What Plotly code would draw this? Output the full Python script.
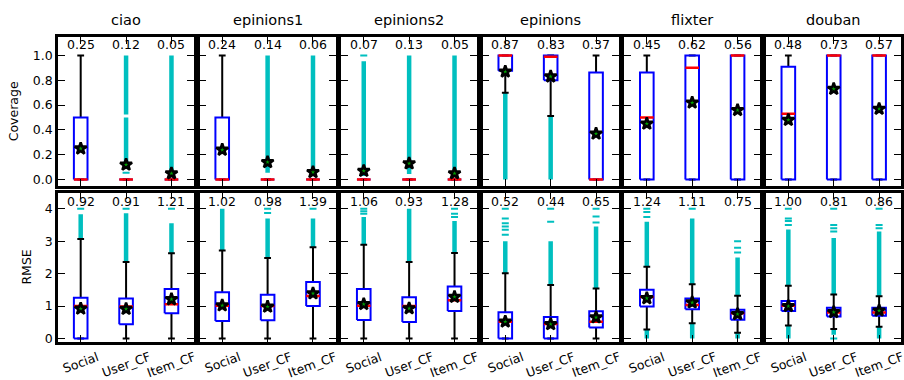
import plotly.graph_objects as go

datasets = ["ciao", "epinions1", "epinions2", "epinions", "flixter", "douban"]
methods = ["Social", "User_CF", "Item_CF"]
positions = [1, 2, 3]
metrics = ["Coverage", "RMSE"]

# ---------- Coverage (top row) ----------
cov_q1 = [[0, 0, 0], [0, 0, 0], [0, 0, 0], [0.877, 0.80, 0], [0, 0, 0], [0, 0, 0]]
cov_med = [[0, 0, 0], [0, 0, 0], [0, 0, 0], [1.0, 0.99, 0], [0.5, 0.9, 1.0], [0.53, 1.0, 1.0]]
cov_q3 = [[0.5, 0, 0], [0.5, 0, 0], [0, 0, 0], [1.0, 1.0, 0.862], [0.862, 1.0, 1.0], [0.909, 1.0, 1.0]]
cov_wlo = [[0, 0, 0], [0, 0, 0], [0, 0, 0], [0.70, 0.512, 0], [0, 0, 0], [0, 0, 0]]
cov_whi = [[1.0, 0, 0], [1.0, 0, 0], [0, 0, 0], [1.0, 1.0, 1.0], [1.0, 1.0, 1.0], [1.0, 1.0, 1.0]]
cov_mean = [[0.25, 0.12, 0.05], [0.24, 0.14, 0.06], [0.07, 0.13, 0.05],
            [0.87, 0.83, 0.37], [0.45, 0.62, 0.56], [0.48, 0.73, 0.57]]
cov_out_ranges = [
    [[], [[0.085, 0.50], [0.525, 1.0]], [[0.07, 1.0]]],
    [[], [[0.055, 1.0]], [[0.08, 1.0]]],
    [[[0.03, 0.953]], [[0.045, 1.0]], [[0.03, 1.0]]],
    [[[0.0, 0.70]], [[0.0, 0.512]], []],
    [[], [], []],
    [[], [], []],
]
cov_out_pts = [
    [[], [0.055], []],
    [[], [], []],
    [[1.0], [], []],
    [[], [], []],
    [[], [], []],
    [[], [], []],
]

# ---------- RMSE (bottom row) ----------
rmse_q1 = [[0, 0.44, 0.78], [0.54, 0.56, 1.0], [0.57, 0.51, 0.85],
           [0, 0, 0.34], [0.99, 0.90, 0.58], [0.85, 0.68, 0.70]]
rmse_med = [[1.0, 0.99, 1.06], [1.01, 1.0, 1.31], [1.01, 1.0, 1.18],
            [0.52, 0.45, 0.52], [1.28, 1.03, 0.78], [1.01, 0.80, 0.80]]
rmse_q3 = [[1.26, 1.23, 1.53], [1.43, 1.35, 1.74], [1.53, 1.27, 1.60],
           [0.81, 0.66, 0.84], [1.50, 1.23, 0.89], [1.16, 0.95, 0.95]]
rmse_wlo = [[0, 0, 0], [0, 0, 0], [0, 0, 0],
            [0, 0, 0], [0.28, 0.47, 0.18], [0.40, 0.29, 0.36]]
rmse_whi = [[3.07, 2.36, 2.63], [2.71, 2.48, 2.81], [2.89, 2.36, 2.64],
            [2.01, 1.65, 1.54], [2.21, 1.67, 1.32], [1.63, 1.36, 1.30]]
rmse_mean = [[0.92, 0.91, 1.21], [1.02, 0.98, 1.39], [1.06, 0.93, 1.28],
             [0.52, 0.44, 0.65], [1.24, 1.11, 0.75], [1.00, 0.81, 0.86]]
rmse_out_ranges = [
    [[[3.07, 3.83]], [[2.36, 3.86]], [[2.63, 3.55]]],
    [[[2.71, 4.0]], [[2.48, 3.70]], [[2.81, 3.70]]],
    [[[2.89, 3.75]], [[2.36, 4.0]], [[2.64, 3.62]]],
    [[[2.01, 3.0]], [[1.65, 3.0]], [[1.54, 3.45]]],
    [[[2.21, 3.6], [0, 0.28]], [[1.67, 3.70], [0, 0.47]], [[1.32, 2.5], [0, 0.18]]],
    [[[1.63, 3.36], [0, 0.40]], [[1.36, 3.1], [0.12, 0.29]], [[1.30, 3.3], [0, 0.36]]],
]
rmse_out_pts = [
    [[4.0], [4.0], [4.0]],
    [[], [3.87, 4.0], [4.0]],
    [[3.85, 3.92, 4.0], [], [3.75, 3.85, 4.0]],
    [[3.2, 3.35, 3.45, 3.55, 3.7, 4.0], [3.6, 4.0], [3.58, 3.76, 4.0]],
    [[3.75, 3.9, 4.0], [4.0], [2.65, 2.8, 3.0]],
    [[3.5, 3.62, 3.7, 4.0], [3.3, 3.4, 3.5, 4.0, 0.0], [3.4, 3.5, 4.0]],
]

rows = [
    dict(q1=cov_q1, med=cov_med, q3=cov_q3, wlo=cov_wlo, whi=cov_whi, mean=cov_mean,
         outr=cov_out_ranges, outp=cov_out_pts, yrange=[-0.05, 1.15],
         tickvals=[0.0, 0.2, 0.4, 0.6, 0.8, 1.0], tickformat=".1f", label_y=1.086),
    dict(q1=rmse_q1, med=rmse_med, q3=rmse_q3, wlo=rmse_wlo, whi=rmse_whi, mean=rmse_mean,
         outr=rmse_out_ranges, outp=rmse_out_pts, yrange=[-0.1, 4.5],
         tickvals=[0, 1, 2, 3, 4], tickformat="d", label_y=4.23),
]

W, H = 904, 380
BOX_HALF = 0.15
CAP_HALF = 0.075
BLUE, RED, CYAN = "#0000ff", "#ff0000", "#00bfbf"
FONT = "DejaVu Sans"

fig = go.Figure()
annotations = []
layout_axes = {}

row_px = [(37.2, 187.8), (194.6, 345.4)]

for r, spec in enumerate(rows):
    for c, ds in enumerate(datasets):
        k = r * 6 + c + 1
        xa = "x" if k == 1 else f"x{k}"
        ya = "y" if k == 1 else f"y{k}"
        L = 57 + 142 * c
        R = L + 139
        left_px = L + 1.2
        right_px = R - 1.2
        full_w = right_px - left_px
        xr = [0.5, 3.5]
        if right_px > W:
            xr = [0.5, 0.5 + 3.0 * (W - left_px) / full_w]
            right_px = W
        xdom = [left_px / W, right_px / W]
        ydom = [1 - row_px[r][1] / H, 1 - row_px[r][0] / H]

        # outlier dense ranges
        ox, oy = [], []
        for j, p in enumerate(positions):
            for lo, hi in spec["outr"][c][j]:
                ox += [p, p, None]
                oy += [lo, hi, None]
        if ox:
            fig.add_trace(go.Scatter(x=ox, y=oy, mode="lines", xaxis=xa, yaxis=ya,
                                     line=dict(color=CYAN, width=4.5), hoverinfo="skip",
                                     showlegend=False))
        px_, py_ = [], []
        for j, p in enumerate(positions):
            for v in spec["outp"][c][j]:
                px_.append(p)
                py_.append(v)
        if px_:
            fig.add_trace(go.Scatter(x=px_, y=py_, mode="markers", xaxis=xa, yaxis=ya,
                                     marker=dict(symbol="line-ew", size=5,
                                                 line=dict(color=CYAN, width=2)),
                                     hoverinfo="skip", showlegend=False))

        # whiskers + caps
        wx, wy = [], []
        for j, p in enumerate(positions):
            q1 = spec["q1"][c][j]; q3 = spec["q3"][c][j]
            lo = spec["wlo"][c][j]; hi = spec["whi"][c][j]
            wx += [p, p, None, p, p, None]
            wy += [q3, hi, None, q1, lo, None]
            wx += [p - CAP_HALF, p + CAP_HALF, None, p - CAP_HALF, p + CAP_HALF, None]
            wy += [hi, hi, None, lo, lo, None]
        fig.add_trace(go.Scatter(x=wx, y=wy, mode="lines", xaxis=xa, yaxis=ya,
                                 line=dict(color="black", width=2), hoverinfo="skip",
                                 showlegend=False))

        # boxes
        bx, by = [], []
        for j, p in enumerate(positions):
            q1 = spec["q1"][c][j]; q3 = spec["q3"][c][j]
            bx += [p - BOX_HALF, p + BOX_HALF, p + BOX_HALF, p - BOX_HALF, p - BOX_HALF, None]
            by += [q1, q1, q3, q3, q1, None]
        fig.add_trace(go.Scatter(x=bx, y=by, mode="lines", xaxis=xa, yaxis=ya,
                                 line=dict(color=BLUE, width=2), hoverinfo="skip",
                                 showlegend=False))

        # medians
        mx, my = [], []
        for j, p in enumerate(positions):
            m = spec["med"][c][j]
            mx += [p - BOX_HALF, p + BOX_HALF, None]
            my += [m, m, None]
        fig.add_trace(go.Scatter(x=mx, y=my, mode="lines", xaxis=xa, yaxis=ya,
                                 line=dict(color=RED, width=2.5), hoverinfo="skip",
                                 showlegend=False))

        # means
        fig.add_trace(go.Scatter(x=positions, y=spec["mean"][c], mode="markers",
                                 xaxis=xa, yaxis=ya,
                                 marker=dict(symbol="star", size=9, color="#00a000",
                                             line=dict(color="black", width=2.5)),
                                 hoverinfo="skip", showlegend=False))

        # mean value labels
        for j, p in enumerate(positions):
            annotations.append(dict(x=p, y=spec["label_y"], xref=xa, yref=ya,
                                    text=f"{spec['mean'][c][j]:.2f}", showarrow=False,
                                    font=dict(family=FONT, size=12.5, color="black"),
                                    xanchor="center", yanchor="middle"))

        # axes
        xkey = "xaxis" if k == 1 else f"xaxis{k}"
        ykey = "yaxis" if k == 1 else f"yaxis{k}"
        layout_axes[xkey] = dict(domain=xdom, anchor=ya, range=xr,
                                 tickvals=positions, showticklabels=False,
                                 ticks="inside", ticklen=7, tickwidth=1, tickcolor="black",
                                 showline=True, linecolor="black", linewidth=2.5,
                                 mirror="allticks", showgrid=False, zeroline=False,
                                 fixedrange=True)
        layout_axes[ykey] = dict(domain=ydom, anchor=xa, range=spec["yrange"],
                                 tickvals=spec["tickvals"], tickformat=spec["tickformat"],
                                 showticklabels=(c == 0),
                                 tickfont=dict(family=FONT, size=12.5, color="black"),
                                 ticks="inside", ticklen=7, tickwidth=1, tickcolor="black",
                                 showline=True, linecolor="black", linewidth=2.5,
                                 mirror="allticks", showgrid=False, zeroline=False,
                                 fixedrange=True)

        if r == 0:
            annotations.append(dict(x=(L + R) / 2 / W, y=1 - 20 / H, xref="paper", yref="paper",
                                    text=ds, showarrow=False,
                                    font=dict(family=FONT, size=14.5, color="black"),
                                    xanchor="center", yanchor="middle"))
        if r == 1:
            for j, p in enumerate(positions):
                annotations.append(dict(x=p, y=1 - 350 / H, xref=xa, yref="paper",
                                        text=methods[j], showarrow=False, textangle=-20,
                                        font=dict(family=FONT, size=12.5, color="black"),
                                        xanchor="center", yanchor="top"))

annotations.append(dict(x=13 / W, y=1 - 112.5 / H, xref="paper", yref="paper",
                        text=metrics[0], showarrow=False, textangle=-90,
                        font=dict(family=FONT, size=12.5, color="black"),
                        xanchor="center", yanchor="middle"))
annotations.append(dict(x=26.5 / W, y=1 - 270 / H, xref="paper", yref="paper",
                        text=metrics[1], showarrow=False, textangle=-90,
                        font=dict(family=FONT, size=12.5, color="black"),
                        xanchor="center", yanchor="middle"))

fig.update_layout(width=W, height=H, margin=dict(l=0, r=0, t=0, b=0),
                  paper_bgcolor="white", plot_bgcolor="white",
                  font=dict(family=FONT, size=12.5, color="black"),
                  annotations=annotations, showlegend=False, **layout_axes)

fig.write_html("out.html", config={"displayModeBar": False},
               post_script="document.body.style.margin='0';document.body.style.overflow='hidden';")
